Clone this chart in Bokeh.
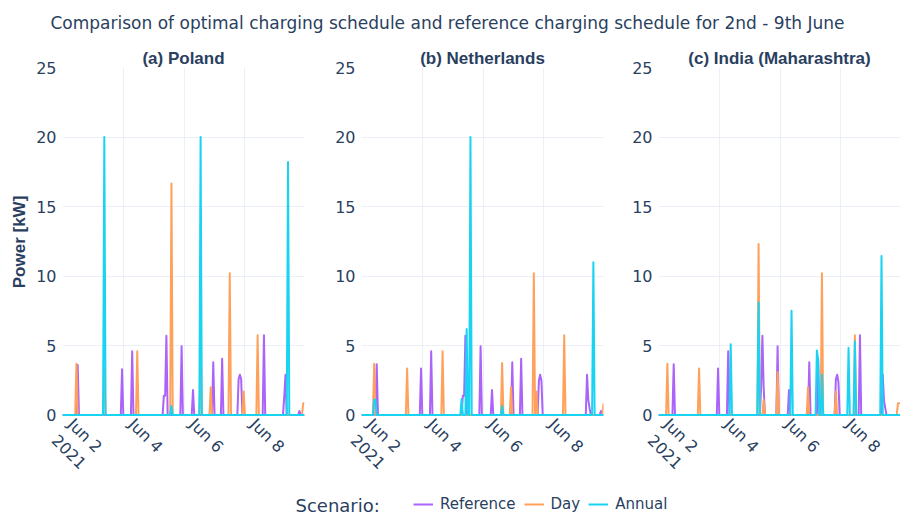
import numpy as np
import pandas as pd
from bokeh.plotting import figure
from bokeh.models import (Range1d, FixedTicker, DatetimeTickFormatter, Legend,
                          LegendItem, Label)
from bokeh.layouts import column, row
from bokeh.embed import file_html
from bokeh.resources import INLINE

# ---------------- data ----------------
START = "2021-06-02 00:00"
N_HOURS = 192  # hourly values, 2nd June 00:00 .. 9th June 23:00

MAIN_TITLE = "Comparison of optimal charging schedule and reference charging schedule for 2nd - 9th June"
PANEL_TITLES = ["(a) Poland", "(b) Netherlands", "(c) India (Maharashtra)"]
SCENARIOS = ["Reference", "Day", "Annual"]
COLORS = ["#AB63FA", "#FFA15A", "#19D3F3"]
Y_TICKS = [0, 5, 10, 15, 20, 25]
X_TICK_DATES = ["2021-06-02", "2021-06-04", "2021-06-06", "2021-06-08"]

# hour index after START with non-zero charging power, and the power [kW]
PL_REF_H = [12, 47, 55, 80, 81, 82, 94, 103, 119, 126, 139, 140, 141, 159, 175, 176, 187]
PL_REF_KW = [3.6, 3.3, 4.6, 1.4, 1.4, 5.7, 4.95, 1.8, 3.8, 4.05, 2.6, 2.9, 2.6, 5.75, 1.3, 2.9, 0.3]
PL_DAY_H = [11, 33, 59, 86, 109, 117, 132, 143, 154, 190, 191]
PL_DAY_KW = [3.7, 3.3, 4.6, 16.65, 3.7, 2.0, 10.2, 1.7, 5.75, 0.85, 0.85]
PL_ANN_H = [33, 86, 109, 178]
PL_ANN_KW = [20.0, 0.65, 20.0, 18.2]

NL_REF_H = [12, 47, 55, 80, 81, 82, 94, 103, 119, 126, 140, 141, 142, 178, 179, 180, 189]
NL_REF_KW = [3.65, 3.35, 4.6, 1.4, 1.4, 5.7, 4.95, 1.8, 3.8, 4.05, 2.5, 2.9, 2.5, 2.9, 1.1, 0.5, 0.3]
NL_DAY_H = [10, 36, 64, 111, 118, 136, 138, 160, 191]
NL_DAY_KW = [3.7, 3.35, 4.6, 3.75, 2.0, 10.2, 1.7, 5.75, 0.85]
NL_ANN_H = [10, 11, 79, 83, 86, 111, 183]
NL_ANN_KW = [1.1, 1.1, 1.15, 6.2, 20.0, 0.65, 11.0]

IN_REF_H = [12, 47, 55, 81, 82, 83, 94, 103, 119, 126, 140, 141, 142, 159, 177, 178, 179]
IN_REF_KW = [3.65, 3.35, 4.6, 2.0, 5.7, 2.0, 4.95, 1.8, 3.8, 4.05, 2.6, 2.9, 2.4, 5.75, 2.9, 1.0, 0.5]
IN_DAY_H = [7, 32, 79, 83, 94, 118, 129, 140, 155, 189, 190, 191]
IN_DAY_KW = [3.7, 3.35, 12.3, 1.1, 3.1, 2.0, 10.2, 1.7, 5.75, 0.85, 0.85, 0.85]
IN_ANN_H = [57, 79, 105, 125, 126, 129, 150, 155, 176]
IN_ANN_KW = [5.1, 8.1, 7.5, 4.65, 4.0, 2.9, 4.85, 5.3, 11.45]

PANELS = [
    [(PL_REF_H, PL_REF_KW), (PL_DAY_H, PL_DAY_KW), (PL_ANN_H, PL_ANN_KW)],
    [(NL_REF_H, NL_REF_KW), (NL_DAY_H, NL_DAY_KW), (NL_ANN_H, NL_ANN_KW)],
    [(IN_REF_H, IN_REF_KW), (IN_DAY_H, IN_DAY_KW), (IN_ANN_H, IN_ANN_KW)],
]

# ---------------- styling ----------------
TXT = "#2a3f5f"
GRID = "#EBF0F8"
FONT = "DejaVu Sans"
BOLD_FONT = "Liberation Sans"

times = pd.date_range(START, periods=N_HOURS, freq="h")
x_ticks_ms = [pd.Timestamp(d).value / 1e6 for d in X_TICK_DATES]


def hourly(hours, kw):
    y = np.zeros(N_HOURS)
    y[np.array(hours, dtype=int)] = kw
    return y


def make_panel(i):
    left = [62, 54, 52][i]
    right = [3, 3, 0][i]
    p = figure(frame_width=242, frame_height=349, x_axis_type="datetime",
               x_range=Range1d(times[0], times[-1]), y_range=Range1d(-0.1, 25),
               min_border_left=left, min_border_right=right, min_border_top=23,
               min_border_bottom=73, output_backend="svg", toolbar_location=None,
               title=PANEL_TITLES[i])
    p.title.align = "center"
    p.title.text_font = BOLD_FONT
    p.title.text_font_style = "bold"
    p.title.text_font_size = "17px"
    p.title.text_color = TXT
    p.title.standoff = 0
    p.outline_line_color = None
    p.background_fill_color = "white"

    p.yaxis.ticker = FixedTicker(ticks=Y_TICKS)
    p.xaxis.ticker = FixedTicker(ticks=x_ticks_ms)
    p.xaxis.formatter = DatetimeTickFormatter(days="%b %-d", context="%Y",
                                              context_which="start")
    p.xaxis.major_label_orientation = -np.pi / 4
    for ax in (p.xaxis, p.yaxis):
        ax.axis_line_color = None
        ax.major_tick_line_color = None
        ax.minor_tick_line_color = None
        ax.major_label_text_font = FONT
        ax.major_label_text_font_size = "16px"
        ax.major_label_text_color = TXT
    p.yaxis.major_label_standoff = 0
    p.xaxis.major_label_standoff = 7
    p.xgrid.ticker = FixedTicker(ticks=x_ticks_ms)
    p.xgrid.grid_line_color = GRID
    p.ygrid.grid_line_color = GRID
    if i == 0:
        p.yaxis.axis_label = "Power [kW]"
        p.yaxis.axis_label_text_font = BOLD_FONT
        p.yaxis.axis_label_text_font_style = "bold"
        p.yaxis.axis_label_text_font_size = "17px"
        p.yaxis.axis_label_text_color = TXT
        p.yaxis.axis_label_standoff = 4

    for (hours, kw), color, name in zip(PANELS[i], COLORS, SCENARIOS):
        p.line(times, hourly(hours, kw), line_color=color, line_width=2,
               line_join="round")
    return p


def blank(height):
    p = figure(width=900, height=height, x_range=Range1d(0, 1), y_range=Range1d(0, 1),
               min_border=0, x_axis_location=None, y_axis_location=None,
               output_backend="svg", toolbar_location=None)
    p.grid.visible = False
    p.outline_line_color = None
    return p


title_fig = blank(44)
title_fig.add_layout(Label(x=50, y=22, x_units="screen", y_units="screen",
                           text=MAIN_TITLE, text_font=FONT, text_font_size="17px",
                           text_color=TXT, text_baseline="middle"))

panels = [make_panel(i) for i in range(3)]

legend_fig = blank(27)
items = []
for color, name in zip(COLORS, SCENARIOS):
    # invisible placeholder renderer (NaN point) so the legend can draw its swatch
    r = legend_fig.line(x=[np.nan], y=[np.nan], line_color=color, line_width=2)
    items.append(LegendItem(label=name, renderers=[r]))
legend = Legend(items=items, orientation="horizontal", location=(413, 4),
                glyph_width=20, glyph_height=16, label_standoff=7, spacing=8,
                padding=0, margin=0, border_line_color=None, background_fill_alpha=0,
                label_text_font=FONT, label_text_font_size="15px",
                label_text_color=TXT)
legend_fig.add_layout(legend)
legend_fig.add_layout(Label(x=295, y=12, x_units="screen", y_units="screen",
                            text="Scenario:", text_font=FONT, text_font_size="18px",
                            text_color=TXT, text_baseline="middle"))

layout = column(title_fig, row(*panels), legend_fig)
open("out.html", "w").write(file_html(layout, INLINE))
